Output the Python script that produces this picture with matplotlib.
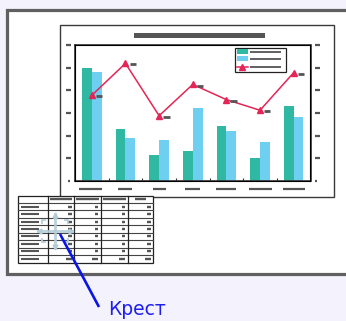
import numpy as np
import matplotlib
matplotlib.use("Agg")
import matplotlib.pyplot as plt
from matplotlib.lines import Line2D
from matplotlib.patches import Rectangle
from matplotlib.transforms import blended_transform_factory

# chart values (placeholder slide: two bar series + one line series)
categories = np.arange(7)
series_a = [5.0, 2.3, 1.15, 1.32, 2.43, 1.01, 3.31]
series_b = [4.81, 1.9, 1.81, 3.22, 2.21, 1.72, 2.82]
series_line = [3.78, 5.19, 2.88, 4.26, 3.59, 3.12, 4.78]
yticks = [0, 1, 2, 3, 4, 5, 6]
label_text = "Крест"

TEAL = "#2fb9a3"
SKY = "#6fcff1"
RED = "#e42555"
GREY = "#555555"
BG = "#f3f2fd"

W, H = 346, 321
fig = plt.figure(figsize=(W / 100, H / 100), dpi=100)
fig.patch.set_facecolor(BG)


def px_axes(x0, y0, x1, y1):
    # axes rectangle given in pixel coordinates (origin top-left)
    return fig.add_axes([x0 / W, 1 - y1 / H, (x1 - x0) / W, (y1 - y0) / H])


def dash(axis, x0, x1, y, lw=1.5, transform=None, color=GREY, z=5):
    axis.add_line(Line2D([x0, x1], [y, y], lw=lw, color=color,
                         solid_capstyle="butt", clip_on=False, zorder=z,
                         transform=transform if transform is not None else axis.transData))


# ---- screen and slide frame -------------------------------------------
bg = fig.add_axes([0, 0, 1, 1])
bg.set_xlim(0, W)
bg.set_ylim(H, 0)
bg.axis("off")
bg.add_patch(Rectangle((6.5, 10), 360, 264, facecolor="white",
                       edgecolor="#606060", lw=2.3))
bg.add_patch(Rectangle((60, 24.5), 273.5, 172.5, facecolor="white",
                       edgecolor="#3a3a3a", lw=1.0))
bg.add_patch(Rectangle((134, 33), 131, 5, facecolor=GREY, edgecolor="none"))

# ---- chart -------------------------------------------------------------
ax = px_axes(75, 45, 310.5, 181)
ax.set_zorder(2)
bw = 0.29
ax.bar(categories - bw / 2, series_a, width=bw, color=TEAL)
ax.bar(categories + bw / 2, series_b, width=bw, color=SKY)
ax.set_xlim(-0.5, 6.5)
ax.set_ylim(0, 6)
ax.set_xticks(categories[:-1] + 0.5)
ax.set_xticklabels([])
ax.tick_params(axis="x", direction="in", length=2.5, width=0.8, color="#333")
ax.set_yticks([])
for s in ax.spines.values():
    s.set_color("#333333")
    s.set_linewidth(1.2)

ax2 = ax.twinx()
ax2.set_ylim(0, 6)
ax2.set_yticks([])
ax2.plot(categories, series_line, color=RED, lw=1.1, marker="^",
         markersize=5, markerfacecolor=RED, markeredgecolor=RED)

# greyed-out axis labels
yt = blended_transform_factory(ax.transAxes, ax.transData)
for v in yticks:
    if v == 0:
        dash(ax, -0.03, -0.021, v, lw=1.6, transform=yt)
        dash(ax, 1.018, 1.027, v, lw=1.6, transform=yt)
    else:
        dash(ax, -0.038, -0.017, v, lw=1.6, transform=yt)
        dash(ax, 1.017, 1.042, v, lw=1.6, transform=yt)

xt = blended_transform_factory(ax.transData, ax.transAxes)
xlab_w = [20, 14, 13, 15, 20, 23, 22]
for c, w in zip(categories, xlab_w):
    half = w / 2 / 33.6
    dash(ax, c - 0.08 - half if c == 0 else c - half, c + half, -0.061,
         lw=1.6, transform=xt)

# value tags next to the line points
for c, v in zip(categories, series_line):
    dash(ax2, c + 0.12, c + 0.31, v - 0.05, lw=2.0, z=6)

# legend box
lt = ax2.transAxes
ax2.add_patch(Rectangle((0.678, 0.801), 0.216, 0.177, transform=lt,
                        facecolor="white", edgecolor="#222", lw=0.9, zorder=7))
rows_y = [0.951, 0.899, 0.840]
ax2.add_patch(Rectangle((0.688, rows_y[0] - 0.018), 0.046, 0.036,
                        transform=lt, facecolor=TEAL, edgecolor="none", zorder=8))
ax2.add_patch(Rectangle((0.688, rows_y[1] - 0.018), 0.046, 0.036,
                        transform=lt, facecolor=SKY, edgecolor="none", zorder=8))
ax2.add_line(Line2D([0.688, 0.734], [rows_y[2]] * 2, transform=lt, color=RED,
                    lw=1.1, zorder=8))
ax2.add_line(Line2D([0.711], [rows_y[2]], transform=lt, color=RED, marker="^",
                    markersize=4.5, zorder=8))
for ry in rows_y:
    dash(ax2, 0.744, 0.876, ry, lw=1.3, transform=lt, z=8)

# ---- overlay: table, cursor, callout ------------------------------------
ov = fig.add_axes([0, 0, 1, 1])
ov.set_zorder(5)
ov.set_xlim(0, W)
ov.set_ylim(H, 0)
ov.axis("off")
ov.patch.set_visible(False)

col_x = [18.3, 48.3, 74.0, 100.7, 127.7, 153.3]
n_rows = 9
t_top, t_bot = 195.5, 262.5
row_h = (t_bot - t_top) / n_rows
ov.add_patch(Rectangle((col_x[0], t_top), col_x[-1] - col_x[0], t_bot - t_top,
                       facecolor="white", edgecolor="#222", lw=0.9))
for i in range(1, n_rows):
    y = t_top + i * row_h
    ov.plot([col_x[0], col_x[-1]], [y, y], color="#444", lw=0.8)
for x in col_x[1:-1]:
    ov.plot([x, x], [t_top, t_bot], color="#222", lw=0.9)

for i in range(n_rows):
    yc = t_top + (i + 0.5) * row_h
    if i == 0:
        for j in range(1, 5):
            x0, x1 = col_x[j], col_x[j + 1]
            if j == 4:
                dash(ov, x0 + 7, x1 - 7, yc, lw=1.7)
            else:
                dash(ov, x0 + 2, x1 - 2, yc, lw=1.7)
        continue
    dash(ov, col_x[0] + 3, col_x[0] + 21, yc, lw=1.5)
    w = 6 if i == n_rows - 1 else 3.5
    for j in range(1, 5):
        dash(ov, col_x[j + 1] - 2.5 - w, col_x[j + 1] - 2.5, yc, lw=1.7)

# cross cursor
cc = "#b5ccd7"
cx, cy = 54.5, 230.5
ov.plot([cx - 17, cx + 17], [cy, cy], color=cc, lw=2.0, alpha=0.9, zorder=6)
ov.plot([cx, cx], [cy - 17, cy + 17], color=cc, lw=2.0, alpha=0.9, zorder=6)
for mx, my, m in [(cx, cy - 16, "^"), (cx, cy + 16, "v"),
                  (cx - 16, cy, "<"), (cx + 16, cy, ">")]:
    ov.plot([mx], [my], marker=m, color=cc, markersize=3.5, zorder=6)
for sx in (-1, 1):
    for sy in (-1, 1):
        ov.plot([cx + sx * 13, cx + sx * 13, cx + sx * 10],
                [cy + sy * 8, cy + sy * 11, cy + sy * 11],
                color=cc, lw=1.3, zorder=6)

# callout line and caption
ov.plot([60, 99], [234, 307], color="#0a14e6", lw=1.9, solid_capstyle="butt",
        zorder=7)
ov.text(108.5, 315, label_text, color="#1e1ef0", fontsize=13.5,
        family="DejaVu Sans", va="baseline", ha="left")

fig.savefig("out.png", dpi=100, facecolor=BG)
